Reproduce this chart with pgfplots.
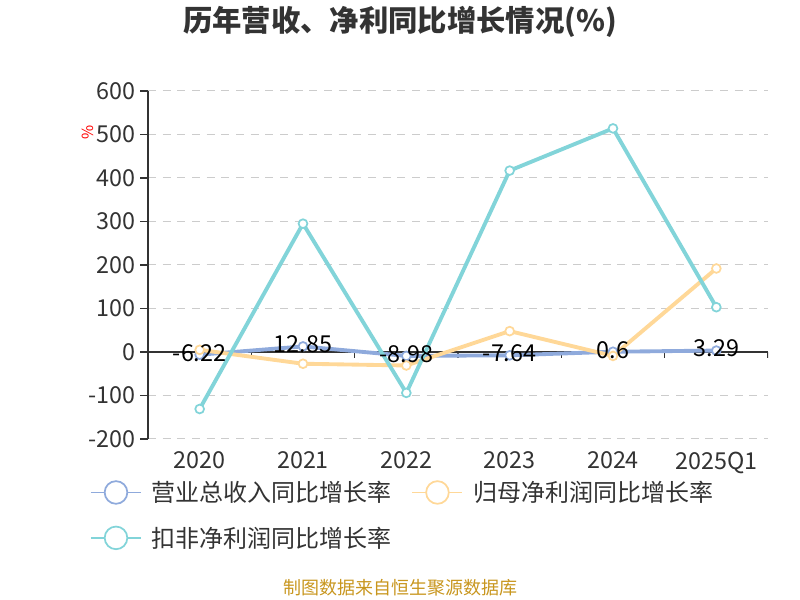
\documentclass[border=0pt]{standalone}
\usepackage{fontspec}
\setmainfont{Noto Sans CJK SC}
\usepackage{pgfplots}
\pgfplotsset{compat=1.18}
\definecolor{cblue}{HTML}{8FAADC}
\definecolor{cyel}{HTML}{FFD898}
\definecolor{ccyan}{HTML}{82D4D9}
\definecolor{axiscol}{HTML}{333333}
\definecolor{gridcol}{HTML}{CCCCCC}
\definecolor{txt}{HTML}{333333}
\definecolor{src}{HTML}{C8961E}
\begin{document}
\begin{tikzpicture}
\path[use as bounding box] (0,0) rectangle (600pt,450pt);
\begin{axis}[
  at={(111pt,120.75pt)}, anchor=south west,
  scale only axis, width=465pt, height=261pt,
  xmin=-0.5, xmax=5.5, ymin=-200, ymax=600,
  axis lines=left, axis line style={-},
  x axis line style={draw=none},
  y axis line style={draw=axiscol, line width=1.1pt},
  xtick={0,...,5}, xticklabels={2020,2021,2022,2023,2024,2025Q1},
  ytick={-200,-100,...,600},
  yticklabels={-200,-100,0,100,200,300,400,500,600},
  xtick style={draw=none},
  ytick style={draw=axiscol, line width=1.1pt},
  tick align=outside, major tick length=6pt,
  ymajorgrids, grid style={gridcol, line width=0.75pt, dash pattern=on 6pt off 5pt},
  tick label style={font=\fontsize{17.5}{20}\selectfont, text=txt},
  legend columns=2,
  legend cell align=left,
  legend style={at={(axis description cs:0,0)}, anchor=north west, xshift=-43.5pt, yshift=-30.75pt,
    draw=none, fill=none, inner sep=0pt, font=\fontsize{18}{21}\selectfont, text=txt,
    row sep=15.75pt, nodes={inner sep=0pt},
    /tikz/every odd column/.append style={column sep=7.5pt},
    /tikz/every even column/.append style={column sep=15pt}},
  legend image code/.code={
    \draw[#1, line width=1.1pt] (0pt,0pt) -- (37.5pt,0pt);
    \draw[#1, fill=white, line width=1.3pt] (18.75pt,0pt) circle (8.5pt);
  },
]
\draw[axiscol, line width=1.1pt] (axis cs:-0.5,0) -- (axis cs:5.5,0);
\pgfplotsinvokeforeach{-0.5,0.5,1.5,2.5,3.5,4.5,5.5}{
  \draw[axiscol, line width=1.1pt] (axis cs:#1,0) -- ++(0pt,-4.5pt);
}
\addplot[color=cblue, line width=2.9pt, mark=*, mark size=3.3pt, mark options={fill=white, line width=1.3pt}]
  coordinates {(0,-6.22) (1,12.85) (2,-8.98) (3,-7.64) (4,0.6) (5,3.29)};
\addlegendentry{营业总收入同比增长率}
\addplot[color=cyel, line width=2.9pt, mark=*, mark size=3.3pt, mark options={fill=white, line width=1.3pt}]
  coordinates {(0,5) (1,-27) (2,-31) (3,48) (4,-9) (5,192)};
\addlegendentry{归母净利润同比增长率}
\addplot[color=ccyan, line width=2.9pt, mark=*, mark size=3.3pt, mark options={fill=white, line width=1.3pt}]
  coordinates {(0,-131) (1,295) (2,-94) (3,417) (4,514) (5,103)};
\addlegendentry{扣非净利润同比增长率}
\addplot[draw=none, mark=none, forget plot, nodes near coords, point meta=explicit symbolic,
  every node near coord/.append style={anchor=center, yshift=1.5pt, text=black, inner sep=0pt,
  font=\fontsize{17.5}{20}\selectfont}]
  coordinates {(0,-6.22)[-6.22] (1,12.85)[12.85] (2,-8.98)[-8.98] (3,-7.64)[-7.64] (4,0.6)[0.6] (5,3.29)[3.29]};
\end{axis}
\node[font=\fontsize{22}{26}\selectfont\bfseries, text=txt] at (300pt,433.5pt) {历年营收、净利同比增长情况(\%)};
\node[font=\fontsize{11.5}{13}\selectfont, text=red, rotate=90] at (66pt,351pt) {\%};
\node[font=\fontsize{13.5}{16}\selectfont, text=src] at (300pt,9pt) {制图数据来自恒生聚源数据库};
\end{tikzpicture}
\end{document}
